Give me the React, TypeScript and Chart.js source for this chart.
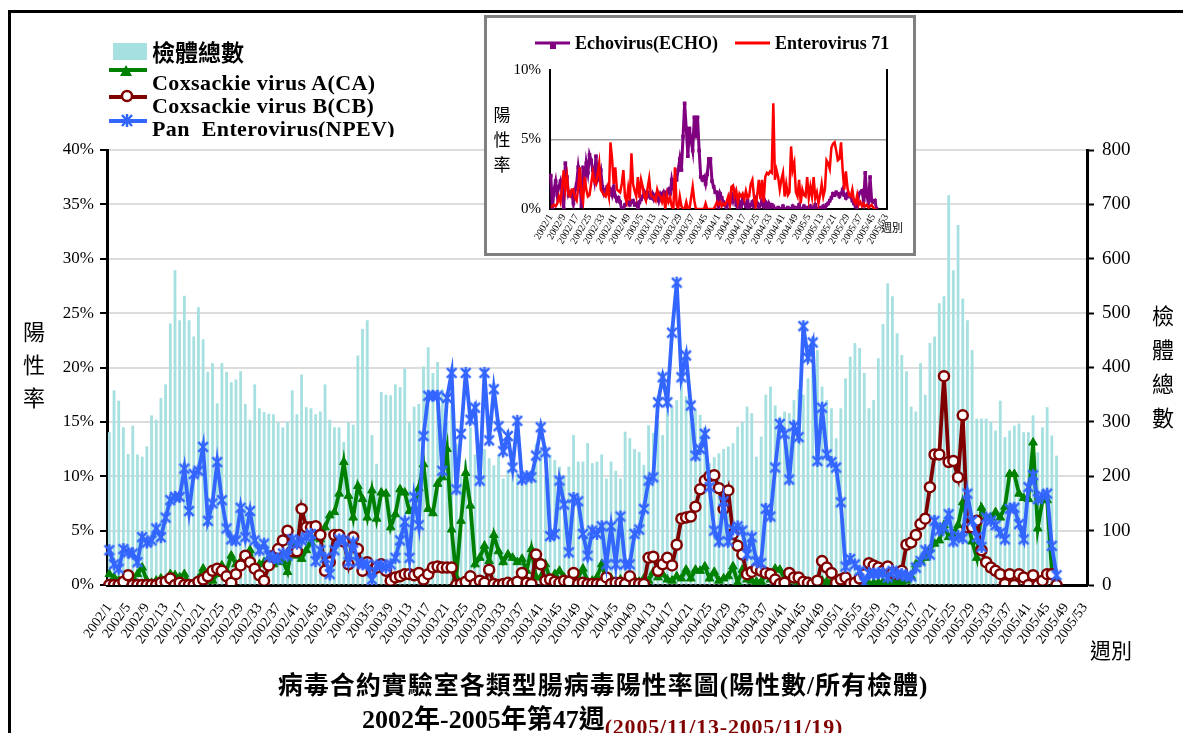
import React, { useEffect, useRef } from "react";
import { Chart, registerables } from "chart.js";
Chart.register(...registerables);

// ---------- categories ----------
const YEARS = [2002, 2003, 2004, 2005];
const WEEKS_IN_YEAR = [52, 52, 52, 53];
const WEEK_LABELS: string[] = [];
YEARS.forEach((y, k) => {
  for (let w = 1; w <= WEEKS_IN_YEAR[k]; w++) WEEK_LABELS.push(`${y}/${w}`);
});
const MAIN_LABEL_EVERY = 4;
const INSET_LABEL_EVERY = 8;

// ---------- main chart data ----------
const TOTAL_SPECIMENS = [
  281, 358, 339, 290, 241, 293, 240, 236, 255, 312,
  304, 344, 369, 481, 579, 487, 532, 487, 457, 511,
  452, 392, 408, 334, 408, 392, 373, 378, 393, 333,
  304, 369, 325, 318, 315, 314, 299, 290, 300, 358,
  314, 387, 327, 325, 314, 319, 369, 304, 290, 290,
  263, 299, 295, 422, 471, 487, 276, 223, 355, 350,
  349, 369, 364, 398, 299, 328, 333, 402, 437, 390,
  410, 360, 300, 330, 260, 200, 230, 290, 240, 210,
  250, 233, 220, 240, 196, 212, 230, 206, 190, 200,
  210, 260, 250, 200, 239, 230, 218, 200, 218, 276,
  227, 227, 261, 224, 227, 240, 196, 227, 210, 196,
  282, 270, 250, 245, 221, 294, 280, 300, 276, 322,
  328, 340, 377, 347, 330, 322, 313, 291, 224, 235,
  242, 250, 255, 261, 291, 300, 328, 316, 236, 273,
  350, 365, 330, 310, 319, 316, 340, 360, 350, 380,
  400, 432, 365, 340, 325, 270, 325, 380, 420, 445,
  436, 390, 325, 340, 417, 480, 555, 531, 463, 423,
  393, 328, 319, 408, 350, 445, 457, 518, 531, 717,
  579, 662, 527, 487, 432, 306, 306, 306, 300, 284,
  339, 272, 284, 293, 297, 281, 281, 312, 244, 290,
  327, 275, 238,
];

const CA_RATE = [
  1.0, 0.7, 0.4, 0.2, 0.4, 0.7, 1.0, 1.6, 0.4, 0.2,
  0.4, 0.6, 0.4, 1.0, 0.9, 0.7, 1.0, 0.1, 0.2, 0.6,
  1.5, 0.4, 0.4, 1.0, 1.8, 1.3, 2.7, 1.9, 2.2, 2.7,
  3.2, 1.5, 1.9, 2.1, 2.5, 1.9, 2.1, 2.2, 1.2, 3.9,
  2.7, 2.4, 3.2, 3.9, 4.4, 4.2, 5.3, 6.4, 6.7, 8.4,
  11.3, 8.2, 6.2, 9.1, 7.9, 6.2, 8.7, 6.1, 8.5, 8.4,
  5.3, 6.5, 8.8, 8.5, 6.8, 7.1, 8.9, 11.1, 7.0, 6.6,
  9.3, 9.9, 12.5, 5.1, 0.7, 5.9, 10.3, 7.3, 1.9, 2.5,
  3.6, 2.2, 4.6, 3.1, 2.1, 2.8, 2.5, 2.1, 2.4, 1.3,
  3.3, 0.7, 0.7, 1.9, 0.5, 1.0, 1.3, 0.7, 0.2, 0.4,
  0.7, 1.5, 0.3, 0.4, 0.7, 1.9, 0.4, 0.6, 0.3, 0.5,
  0.4, 0.6, 0.5, 0.3, 0.6, 0.4, 1.2, 0.7, 1.0, 0.5,
  0.4, 0.8, 0.6, 1.4, 0.6, 1.4, 1.3, 1.7, 0.6, 1.2,
  0.4, 0.6, 0.8, 1.7, 0.2, 1.4, 0.5, 0.4, 0.3, 0.3,
  0.9, 0.5, 1.5, 1.4, 0.6, 0.6, 0.4, 0.2, 0.2, 0.3,
  0.2, 0.2, 0.4, 0.3, 0.3, 0.4, 0.3, 0.2, 0.1, 0.2,
  0.1, 0.2, 0.1, 0.2, 0.2, 0.3, 0.2, 0.3, 0.2, 0.3,
  0.4, 0.8, 1.9, 2.2, 2.5, 3.3, 3.8, 4.1, 5.5, 4.4,
  4.7, 5.5, 7.6, 5.9, 4.0, 2.5, 7.1, 6.2, 6.2, 6.7,
  6.2, 7.2, 10.2, 10.2, 8.4, 8.0, 7.9, 13.1, 5.2, 7.8,
  7.8, 1.3, 0.5,
];

const CB_RATE = [
  0, 0, 0, 0.3, 0.9, 0, 0, 0, 0, 0,
  0, 0.2, 0.3, 0.6, 0, 0.2, 0, 0, 0, 0.3,
  0.5, 0.8, 1.3, 1.5, 1.3, 0.8, 0.2, 1.0, 1.8, 2.7,
  2.1, 1.5, 0.9, 0.4, 1.8, 2.7, 3.3, 4.1, 5.0, 3.1,
  3.1, 7.0, 5.3, 5.3, 5.4, 4.6, 1.3, 2.1, 4.6, 4.6,
  4.0, 1.9, 4.4, 3.3, 1.3, 2.1, 1.3, 1.6, 1.9, 1.3,
  0.4, 0.7, 0.8, 1.0, 1.0, 0.9, 1.1, 0.5, 1.0, 1.6,
  1.7, 1.6, 1.6, 1.6, 0, 0.1, 0.3, 0.8, 0.1, 0.4,
  0.2, 1.4, 0.1, 0, 0.1, 0.2, 0.1, 0.3, 1.1, 0.2,
  0.1, 2.8, 1.9, 0.4, 0.5, 0.3, 0.2, 0.4, 0.3, 1.1,
  0.1, 0.2, 0.1, 0.1, 0.1, 0.1, 0.7, 0.1, 0.2, 0.2,
  0.1, 0.8, 0.1, 0.1, 0.1, 2.5, 2.6, 1.3, 1.9, 2.5,
  1.8, 3.7, 6.1, 6.2, 6.3, 7.2, 8.8, 9.6, 10.0, 10.1,
  8.9, 7.0, 8.7, 4.7, 3.6, 2.8, 1.0, 1.2, 1.5, 1.3,
  1.1, 1.0, 0.5, 0.1, 0.2, 1.1, 0.7, 0.7, 0.3, 0.2,
  0.1, 0.4, 2.2, 1.6, 1.1, 0.2, 0.5, 0.7, 0.1, 0.2,
  0.6, 1.0, 2.0, 1.8, 1.6, 1.3, 1.7, 1.1, 1.0, 1.3,
  3.7, 3.9, 4.6, 5.6, 6.1, 9.0, 12.0, 12.0, 19.2, 11.3,
  11.4, 9.9, 15.6, 5.3, 5.3, 5.9, 3.2, 2.1, 1.6, 1.3,
  1.0, 0.1, 1.0, 0, 1.0, 0.7, 0, 0.9, 0, 0.4,
  1.0, 1.0, 0,
];

const NPEV_RATE = [
  3.2, 1.9, 1.5, 3.3, 3.0, 2.9, 2.1, 4.4, 3.9, 4.1,
  5.2, 4.4, 6.2, 7.8, 8.1, 8.1, 10.7, 6.8, 10.2, 10.5,
  12.7, 5.9, 7.5, 11.3, 7.8, 5.2, 4.2, 4.1, 7.1, 4.4,
  6.8, 4.1, 3.2, 3.8, 2.7, 2.5, 2.4, 2.9, 2.7, 4.2,
  3.8, 4.1, 4.4, 4.7, 2.2, 3.2, 2.5, 1.0, 3.2, 4.2,
  4.1, 2.1, 3.9, 2.1, 1.9, 1.9, 0.5, 1.8, 1.8, 1.6,
  1.9, 2.5, 4.1, 5.8, 2.5, 8.1, 5.5, 13.7, 17.4, 17.4,
  17.4, 10.5, 17.2, 19.5, 8.8, 13.9, 19.5, 15.2, 16.3, 9.6,
  19.5, 13.3, 18.0, 14.6, 12.3, 13.7, 10.8, 15.1, 9.7, 10.0,
  9.9, 11.9, 14.5, 12.2, 4.5, 4.7, 9.6, 7.4, 3.0, 8.0,
  7.7, 4.7, 2.7, 5.0, 4.7, 5.4, 1.9, 5.4, 1.9, 6.3,
  1.9, 1.9, 4.7, 5.1, 7.0, 9.6, 9.9, 16.8, 19.1, 16.8,
  23.2, 27.8, 19.1, 21.1, 16.5, 11.9, 12.5, 13.9, 9.0, 5.0,
  4.0, 7.7, 4.0, 5.1, 5.4, 5.0, 2.8, 4.4, 2.2, 2.0,
  7.0, 6.3, 10.8, 14.8, 13.9, 9.7, 14.6, 13.6, 23.8, 20.9,
  22.3, 11.4, 16.3, 12.0, 11.3, 10.8, 7.6, 1.7, 2.4, 1.9,
  1.3, 0.2, 1.1, 1.0, 1.1, 1.1, 0.7, 1.3, 1.0, 1.0,
  0.8, 0.8, 1.6, 2.2, 3.2, 2.8, 5.9, 5.0, 5.3, 6.5,
  4.0, 4.5, 4.3, 8.4, 5.9, 4.4, 3.5, 6.2, 5.9, 5.5,
  4.8, 4.2, 7.0, 7.1, 5.6, 4.2, 9.0, 10.1, 7.9, 8.2,
  8.4, 3.6, 0.9,
];

// ---------- inset chart data ----------
const ECHO_RATE = [
  2.4, 0, 1.4, 2.0, 1.0, 1.6, 2.0, 1.2, 0, 3.3,
  2.3, 1.0, 1.2, 1.2, 0.4, 1.4, 1.8, 3.0, 2.1, 0.2,
  3.0, 1.6, 3.3, 2.6, 3.9, 3.5, 2.8, 2.1, 3.8, 2.1,
  2.4, 2.8, 1.6, 1.1, 1.4, 1.6, 1.2, 1.4, 1.0, 1.6,
  0.9, 0.6, 0.8, 0.5, 0, 0, 0.3, 0.4, 0.5, 0.3,
  0.5, 0.6, 0.3, 0.4, 0, 0.5, 0.7, 0.9, 1.2, 0.8,
  1.2, 0.9, 0.8, 1.1, 0.7, 1.0, 1.1, 0.6, 1.1, 0.9,
  1.2, 0.8, 1.2, 1.4, 1.1, 2.1, 1.5, 2.1, 2.1, 2.8,
  3.6, 2.8, 5.2, 7.6, 5.8, 3.8, 5.8, 4.9, 4.2, 6.6,
  5.2, 6.6, 4.2, 2.3, 2.1, 2.3, 1.8, 2.5, 3.6, 3.6,
  2.0, 1.6, 1.2, 1.2, 0, 1.1, 0.8, 0.5, 0.3, 0,
  0.6, 0.4, 1.1, 0.6, 1.1, 0.3, 0, 0.5, 0.2, 0.7,
  0.4, 0.2, 0.6, 0, 0.3, 0.5, 0.2, 0.7, 0.4, 0,
  0.3, 0.6, 0.2, 0.5, 0.1, 0.4, 0, 0.3, 0.2, 0,
  0, 0.1, 0, 0, 0.2, 0, 0, 0.1, 0, 0,
  0.2, 0, 0.1, 0, 0.3, 0, 0, 0.2, 0, 0.1,
  0, 0.2, 0, 0.1, 0.3, 0, 0, 0.1, 0, 0.2,
  0, 0.3, 0.4, 0.6, 0.8, 1.1, 1.0, 1.2, 1.1, 0.9,
  1.1, 1.4, 1.0, 0.8, 1.1, 0.9, 0.9, 0.6, 0.4, 0.2,
  0, 1.1, 1.2, 1.3, 0.6, 2.6, 0.9, 0.5, 2.3, 0.6,
  0.5, 0.6, 0,
];

const EV71_RATE = [
  0.2, 0.2, 0.3, 0.2, 0.4, 0.9, 0.5, 1.5, 2.8, 1.4,
  2.3, 1.0, 0.9, 1.4, 1.4, 0.8, 0.6, 1.5, 3.0, 1.0,
  0.5, 2.3, 1.4, 0.9, 1.0, 1.8, 2.6, 2.0, 1.8, 2.5,
  3.3, 1.4, 1.2, 1.0, 0.9, 1.5, 0.9, 4.8, 3.6, 1.8,
  3.0, 1.4, 1.3, 1.2, 1.8, 2.8, 0.9, 0.5, 1.5, 0.6,
  4.0, 1.8, 1.3, 0.9, 2.3, 0.8, 2.1, 1.6, 0.9, 0.6,
  1.5, 2.2, 1.0, 0.9, 0.8, 0.6, 1.4, 1.0, 0.9, 0.5,
  0.9, 0, 1.0, 0.5, 0.8, 0.2, 0, 3.0, 0.3, 0,
  0.9, 0.2, 0, 0, 0.5, 0, 0, 0.8, 1.6, 0.6,
  0, 0, 0, 0, 0, 0, 0.4, 0, 0, 0,
  0, 0, 0.2, 0.5, 0.3, 0.5, 0.2, 0.4, 0.3, 0.5,
  0.9, 0.3, 1.6, 1.7, 0.9, 1.3, 0.5, 1.1, 0.9, 1.1,
  0.7, 1.3, 0.8, 0.9, 1.8, 2.1, 0.9, 0.2, 1.0, 2.1,
  0.7, 2.1, 0.5, 2.3, 2.6, 2.5, 2.7, 2.6, 7.6, 2.1,
  2.8, 2.3, 1.4, 2.1, 2.6, 0.9, 1.8, 1.0, 1.2, 4.5,
  2.8, 3.3, 1.2, 0.9, 2.1, 0.4, 1.4, 1.0, 0.9, 2.3,
  0.8, 1.6, 0.9, 2.3, 0.8, 1.2, 0.4, 1.0, 1.8, 0.9,
  1.4, 3.5, 3.3, 2.9, 4.4, 4.7, 4.8, 4.2, 3.5, 3.6,
  4.8, 2.8, 1.4, 2.7, 1.5, 1.0, 0.9, 1.4, 0.6, 0.4,
  1.0, 0.3, 0.5, 0.2, 0.4, 0.2, 0.3, 0.1, 0.2, 0.3,
  0.1, 0, 0,
];

// ---------- styling constants ----------
const SERIF = "'Liberation Serif', 'Times New Roman', 'Noto Sans CJK TC', serif";
const CJK = "'Noto Sans CJK TC', 'Noto Sans CJK SC', sans-serif";
const BAR_COLOR = "#a6e0e0";
const CA_COLOR = "#008000";
const CB_COLOR = "#800000";
const NPEV_COLOR = "#3366ff";
const ECHO_COLOR = "#800080";
const EV71_COLOR = "#ff0000";

function makeAsterisk(color: string, size: number, lw: number) {
  const c = document.createElement("canvas");
  c.width = size;
  c.height = size;
  const g = c.getContext("2d")!;
  g.strokeStyle = color;
  g.lineWidth = lw;
  const m = size / 2;
  const r = m - 1;
  g.beginPath();
  g.moveTo(m, m - r);
  g.lineTo(m, m + r);
  const d = r * 0.8;
  g.moveTo(m - d, m - d);
  g.lineTo(m + d, m + d);
  g.moveTo(m + d, m - d);
  g.lineTo(m - d, m + d);
  g.stroke();
  return c;
}

export default function App() {
  const mainRef = useRef<HTMLCanvasElement>(null);
  const insetRef = useRef<HTMLCanvasElement>(null);

  useEffect(() => {
    const star = makeAsterisk(NPEV_COLOR, 14, 2.5);
    const main = new Chart(mainRef.current!, {
      type: "bar",
      data: {
        labels: WEEK_LABELS,
        datasets: [
          {
            type: "bar",
            label: "檢體總數",
            data: TOTAL_SPECIMENS,
            yAxisID: "y1",
            backgroundColor: BAR_COLOR,
            barPercentage: 0.6,
            categoryPercentage: 1,
            order: 4,
          } as any,
          {
            type: "line",
            label: "Coxsackie virus A(CA)",
            data: CA_RATE,
            yAxisID: "y",
            borderColor: CA_COLOR,
            backgroundColor: CA_COLOR,
            borderWidth: 3.8,
            pointStyle: "triangle",
            pointRadius: 5,
            pointBackgroundColor: CA_COLOR,
            pointBorderColor: CA_COLOR,
            pointBorderWidth: 1,
            order: 3,
          },
          {
            type: "line",
            label: "Coxsackie virus B(CB)",
            data: CB_RATE,
            yAxisID: "y",
            borderColor: CB_COLOR,
            backgroundColor: "#ffffff",
            borderWidth: 3.8,
            pointStyle: "circle",
            pointRadius: 5,
            pointBackgroundColor: "#ffffff",
            pointBorderColor: CB_COLOR,
            pointBorderWidth: 2.5,
            order: 2,
          },
          {
            type: "line",
            label: "Pan Enterovirus(NPEV)",
            data: NPEV_RATE,
            yAxisID: "y",
            borderColor: NPEV_COLOR,
            backgroundColor: NPEV_COLOR,
            borderWidth: 3.8,
            pointStyle: star as any,
            pointRadius: 7,
            order: 1,
          },
        ],
      },
      options: {
        animation: false,
        responsive: false,
        maintainAspectRatio: false,
        layout: { padding: { top: 150, left: 0, right: 0, bottom: 0 } },
        plugins: { legend: { display: false }, tooltip: { enabled: false }, title: { display: false } },
        scales: {
          x: {
            offset: true,
            grid: { display: false, drawTicks: false },
            border: { display: true, color: "#000", width: 3 },
            ticks: {
              autoSkip: false,
              minRotation: 55,
              maxRotation: 55,
              padding: 15,
              color: "#000",
              font: { family: SERIF, size: 14 },
              callback: (_v: any, i: number) => (i % MAIN_LABEL_EVERY === 0 ? WEEK_LABELS[i] : ""),
            },
            afterFit: (s: any) => {
              s.height = 148;
            },
          },
          y: {
            position: "left",
            min: 0,
            max: 40,
            ticks: {
              stepSize: 5,
              color: "#000",
              padding: 6,
              font: { family: SERIF, size: 17 },
              callback: (v: any) => `${v}%`,
            },
            grid: { color: "#dcdcdc", lineWidth: 2, tickColor: "#000", tickLength: 7, tickWidth: 2 },
            border: { color: "#000", width: 3 },
            afterFit: (s: any) => {
              s.width = 107;
            },
          },
          y1: {
            position: "right",
            min: 0,
            max: 800,
            ticks: { stepSize: 100, color: "#000", padding: 8, font: { family: SERIF, size: 19 } },
            grid: { drawOnChartArea: false, tickColor: "#000", tickLength: 7, tickWidth: 2 },
            border: { color: "#000", width: 3 },
            afterFit: (s: any) => {
              s.width = 96;
            },
          },
        },
      } as any,
    });

    const inset = new Chart(insetRef.current!, {
      type: "line",
      data: {
        labels: WEEK_LABELS,
        datasets: [
          {
            label: "Echovirus(ECHO)",
            data: ECHO_RATE,
            borderColor: ECHO_COLOR,
            backgroundColor: ECHO_COLOR,
            borderWidth: 3,
            pointStyle: "rect",
            pointRadius: 2.6,
            pointBackgroundColor: ECHO_COLOR,
            pointBorderColor: ECHO_COLOR,
            pointBorderWidth: 0,
            order: 2,
          },
          {
            label: "Enterovirus 71",
            data: EV71_RATE,
            borderColor: EV71_COLOR,
            backgroundColor: EV71_COLOR,
            borderWidth: 2.5,
            pointRadius: 0,
            order: 1,
          },
        ],
      },
      options: {
        animation: false,
        responsive: false,
        maintainAspectRatio: false,
        layout: { padding: { top: 52, left: 0, right: 0, bottom: 0 } },
        plugins: { legend: { display: false }, tooltip: { enabled: false } },
        scales: {
          x: {
            offset: true,
            grid: { display: false, drawTicks: false },
            border: { display: true, color: "#000", width: 2 },
            ticks: {
              autoSkip: false,
              minRotation: 60,
              maxRotation: 60,
              padding: 3,
              color: "#000",
              font: { family: SERIF, size: 10 },
              callback: (_v: any, i: number) => (i % INSET_LABEL_EVERY === 0 ? WEEK_LABELS[i] : ""),
            },
            afterFit: (s: any) => {
              s.height = 44;
            },
          },
          y: {
            position: "left",
            min: 0,
            max: 10,
            ticks: {
              stepSize: 5,
              color: "#000",
              padding: 9,
              font: { family: SERIF, size: 15 },
              callback: (v: any) => `${v}%`,
            },
            grid: {
              drawTicks: false,
              lineWidth: 1.5,
              color: (ctx: any) => (ctx.tick && ctx.tick.value === 5 ? "#a0a0a0" : "rgba(0,0,0,0)"),
            },
            border: { color: "#000", width: 2 },
            afterFit: (s: any) => {
              s.width = 63;
            },
          },
          y2: {
            position: "right",
            min: 0,
            max: 10,
            ticks: { display: false },
            grid: { drawOnChartArea: false, drawTicks: false },
            border: { color: "#000", width: 2 },
            afterFit: (s: any) => {
              s.width = 26;
            },
          },
        },
      } as any,
    });

    return () => {
      main.destroy();
      inset.destroy();
    };
  }, []);

  const legendText: React.CSSProperties = {
    position: "absolute",
    left: 152,
    font: `bold 22px ${SERIF}`,
    lineHeight: "22px",
    whiteSpace: "nowrap",
    color: "#000",
    letterSpacing: "0.4px",
  };

  const vChar = (ch: string, x: number, y: number, size: number) => (
    <div
      key={ch + y}
      style={{
        position: "absolute",
        left: x - size / 2,
        top: y - size / 2,
        width: size,
        height: size,
        lineHeight: `${size}px`,
        textAlign: "center",
        font: `${size}px ${CJK}`,
        color: "#000",
      }}
    >
      {ch}
    </div>
  );

  return (
    <div
      style={{
        position: "fixed",
        left: 0,
        top: 0,
        width: 1183,
        height: 733,
        background: "#fff",
        overflow: "hidden",
      }}
    >
      {/* outer frame */}
      <div
        style={{
          position: "absolute",
          left: 8,
          top: 10,
          width: 1300,
          height: 800,
          borderLeft: "3px solid #000",
          borderTop: "3px solid #000",
          boxSizing: "border-box",
        }}
      />
      <canvas
        ref={mainRef}
        width={1183}
        height={733}
        style={{ position: "absolute", left: 0, top: 0, width: 1183, height: 733 }}
      />

      {/* main legend */}
      <div style={{ position: "absolute", left: 0, top: 0, width: 480, height: 137, overflow: "hidden" }}>
        <div style={{ position: "absolute", left: 113, top: 43, width: 34, height: 17, background: BAR_COLOR }} />
        <div
          style={{
            position: "absolute",
            left: 152,
            top: 38,
            font: `bold 23px ${CJK}`,
            lineHeight: "26px",
            color: "#000",
          }}
        >
          檢體總數
        </div>
        <svg style={{ position: "absolute", left: 100, top: 60 }} width={55} height={75}>
          <line x1={9} y1={10} x2={47} y2={10} stroke={CA_COLOR} strokeWidth={4} />
          <polygon points="26,5 20,16 32,16" fill={CA_COLOR} />
          <line x1={9} y1={37} x2={47} y2={37} stroke={CB_COLOR} strokeWidth={4} />
          <circle cx={27} cy={36} r={5} fill="#fff" stroke={CB_COLOR} strokeWidth={2.5} />
          <line x1={9} y1={61} x2={47} y2={61} stroke={NPEV_COLOR} strokeWidth={4} />
          <g stroke={NPEV_COLOR} strokeWidth={2.5}>
            <line x1={27} y1={54} x2={27} y2={67} />
            <line x1={22} y1={55} x2={32} y2={66} />
            <line x1={32} y1={55} x2={22} y2={66} />
          </g>
        </svg>
        <div style={{ ...legendText, top: 72 }}>Coxsackie virus A(CA)</div>
        <div style={{ ...legendText, top: 95 }}>Coxsackie virus B(CB)</div>
        <div style={{ ...legendText, top: 118 }}>Pan&nbsp; Enterovirus(NPEV)</div>
      </div>

      {/* left axis title */}
      {["陽", "性", "率"].map((c, k) => vChar(c, 34, 325 + k * 33, 22))}
      {/* right axis title */}
      {["檢", "體", "總", "數"].map((c, k) => vChar(c, 1163, 309 + k * 34, 22))}
      <div
        style={{
          position: "absolute",
          left: 1090,
          top: 637,
          font: `21px ${CJK}`,
          lineHeight: "24px",
          color: "#000",
        }}
      >
        週別
      </div>

      {/* titles */}
      <div
        style={{
          position: "absolute",
          left: 0,
          width: 1206,
          top: 671,
          textAlign: "center",
          font: `bold 25px ${SERIF}`,
          letterSpacing: "1px",
          lineHeight: "30px",
          color: "#000",
          whiteSpace: "nowrap",
        }}
      >
        病毒合約實驗室各類型腸病毒陽性率圖(陽性數/所有檢體)
      </div>
      <div
        style={{
          position: "absolute",
          left: 362,
          top: 705,
          font: `bold 26px ${SERIF}`,
          lineHeight: "30px",
          color: "#000",
          whiteSpace: "nowrap",
        }}
      >
        2002年-2005年第47週
        <span style={{ font: `bold 22px ${SERIF}`, color: "#800000", position: "relative", top: 6, letterSpacing: "0.8px" }}>
          (2005/11/13-2005/11/19)
        </span>
      </div>

      {/* inset */}
      <div
        style={{
          position: "absolute",
          left: 484,
          top: 15,
          width: 432,
          height: 241,
          border: "3px solid #808080",
          boxSizing: "border-box",
          background: "#fff",
        }}
      >
        <canvas
          ref={insetRef}
          width={426}
          height={235}
          style={{ position: "absolute", left: 0, top: 0, width: 426, height: 235 }}
        />
        <svg style={{ position: "absolute", left: 0, top: 0 }} width={426} height={60}>
          <line x1={48} y1={25} x2={83} y2={25} stroke={ECHO_COLOR} strokeWidth={3} />
          <rect x={63} y={25} width={6} height={6} fill={ECHO_COLOR} />
          <line x1={248} y1={25} x2={283} y2={25} stroke={EV71_COLOR} strokeWidth={3} />
        </svg>
        <div
          style={{
            position: "absolute",
            left: 88,
            top: 15,
            font: `bold 18px ${SERIF}`,
            lineHeight: "20px",
            whiteSpace: "nowrap",
            color: "#000",
          }}
        >
          Echovirus(ECHO)
        </div>
        <div
          style={{
            position: "absolute",
            left: 288,
            top: 15,
            font: `bold 18px ${SERIF}`,
            lineHeight: "20px",
            whiteSpace: "nowrap",
            color: "#000",
          }}
        >
          Enterovirus 71
        </div>
        {["陽", "性", "率"].map((c, k) => vChar(c, 15, 91 + k * 25, 17))}
        <div
          style={{
            position: "absolute",
            left: 394,
            top: 202,
            font: `11px ${CJK}`,
            lineHeight: "14px",
            color: "#000",
          }}
        >
          週別
        </div>
      </div>
    </div>
  );
}
